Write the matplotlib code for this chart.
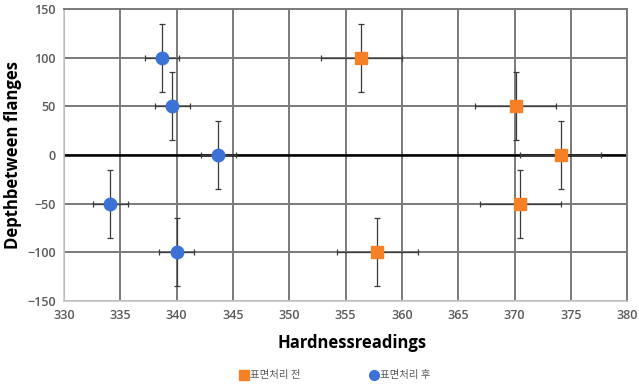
import matplotlib
matplotlib.use("Agg")
import matplotlib.pyplot as plt
from matplotlib.lines import Line2D

plt.rcParams['font.family'] = ['Open Sans', 'Noto Sans CJK KR', 'DejaVu Sans']

# Data
before_x = [356.4, 370.1, 374.1, 370.5, 357.8]
before_y = [100, 50, 0, -50, -100]
before_xerr = [3.6, 3.6, 3.6, 3.6, 3.6]
before_yerr = [35, 35, 35, 35, 35]

after_x = [338.7, 339.6, 343.7, 334.1, 340.0]
after_y = [100, 50, 0, -50, -100]
after_xerr = [1.55, 1.55, 1.55, 1.55, 1.55]
after_yerr = [35, 35, 35, 35, 35]

labels = ['표면처리 전', '표면처리 후']
xticks = [330, 335, 340, 345, 350, 355, 360, 365, 370, 375, 380]
yticks = [-150, -100, -50, 0, 50, 100, 150]

fig = plt.figure(figsize=(6.39, 3.87), dpi=100)
ax = fig.add_axes([64/639, 1-300.7/387, (627.3-64)/639, (300.7-9.3)/387])

ax.set_xlim(330, 380)
ax.set_ylim(-150, 150)
ax.set_xticks(xticks)
ax.set_yticks(yticks)

grid_c = '#7a7a7a'
ax.grid(True, color=grid_c, linewidth=1.4, zorder=0)
ax.set_axisbelow(True)
for s in ['top', 'right']:
    ax.spines[s].set_color(grid_c)
    ax.spines[s].set_linewidth(1.4)
for s in ['left', 'bottom']:
    ax.spines[s].set_color('#c8c8c8')
    ax.spines[s].set_linewidth(1.2)
ax.axhline(0, color='black', linewidth=1.8, zorder=1)

ax.tick_params(length=0, labelsize=9, labelcolor='#595959', pad=6)
for lab in ax.get_xticklabels() + ax.get_yticklabels():
    lab.set_fontweight('semibold')

err_c = '#3a3a3a'
ax.errorbar(before_x, before_y, xerr=before_xerr, yerr=before_yerr, fmt='s',
            color='#f58025', markersize=8, ecolor=err_c, elinewidth=0.9,
            capsize=2, capthick=0.9, zorder=3)
ax.errorbar(after_x, after_y, xerr=after_xerr, yerr=after_yerr, fmt='o',
            color='#3b72d4', markersize=9, ecolor=err_c, elinewidth=0.9,
            capsize=2, capthick=0.9, zorder=3)

ax.set_xlabel('Hardnessreadings', fontsize=12, fontweight='bold')
ax.xaxis.set_label_coords(0.511, -0.115)
ax.set_ylabel('Depthbetween flanges', fontsize=12, fontweight='bold')
ax.yaxis.set_label_coords(-0.074, 0.5)

handles = [Line2D([], [], marker='s', color='#f58025', linestyle='none', markersize=7),
           Line2D([], [], marker='o', color='#3b72d4', linestyle='none', markersize=7)]
leg = fig.legend(handles, labels, loc='center', bbox_to_anchor=(0.524, 0.03), ncol=2,
                 frameon=False, fontsize=7.5, handletextpad=0.1, columnspacing=6.5,
                 handlelength=1.0)
for t in leg.get_texts():
    t.set_color('#595959')
    t.set_family(['Noto Sans CJK KR', 'DejaVu Sans'])

fig.savefig('out.png', dpi=100)
